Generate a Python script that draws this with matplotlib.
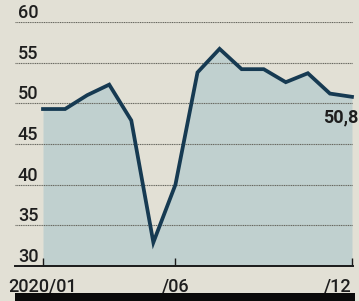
import matplotlib
matplotlib.use("Agg")
import matplotlib.pyplot as plt
from matplotlib.patches import Rectangle

values = [49.3, 49.3, 51.0, 52.3, 47.9, 32.9, 40.0, 53.8, 56.7, 54.2, 54.2, 52.6, 53.7, 51.2, 50.8]
tick_idx = [0, 6, 14]
tick_labels = ["2020/01", "/06", "/12"]
y_ticks = [30, 35, 40, 45, 50, 55, 60]
last_label = "50,8"

W, H = 359, 301
bg = "#e2e0d5"
fig = plt.figure(figsize=(W / 100, H / 100), dpi=100, facecolor=bg)
ax = fig.add_axes([15 / W, 35 / H, (353 - 15) / W, (266 - 22) / H])
ax.set_facecolor(bg)

x = list(range(len(values)))
ax.set_xlim(-1.269, 14.046)
ax.set_ylim(30, 60)

ax.fill_between(x, values, 30, color="#c0d0cf", zorder=1, linewidth=0)
ax.plot(x, values, color="#163a52", linewidth=2.7, solid_joinstyle="miter", zorder=3, clip_on=False)

for yv in y_ticks[1:]:
    ax.axhline(yv, color="#66665e", linewidth=0.8, linestyle=(0, (1, 0.6)), zorder=2)

for s in ["top", "right", "left"]:
    ax.spines[s].set_visible(False)
ax.spines["bottom"].set_color("#1a1a1a")
ax.spines["bottom"].set_linewidth(1.4)
ax.spines["bottom"].set_zorder(4)

font = "Roboto"
ax.set_yticks(y_ticks)
ax.set_yticklabels([str(v) for v in y_ticks], fontsize=13, family=font,
                   fontweight="medium", color="#1e1e1e")
ax.tick_params(axis="y", length=0, pad=-2)
for lbl in ax.get_yticklabels():
    lbl.set_ha("left")
    lbl.set_va("bottom")

ax.set_xticks(tick_idx)
ax.set_xticklabels(tick_labels, fontsize=13, family=font, fontweight="medium", color="#1e1e1e")
ax.tick_params(axis="x", direction="in", length=6, width=1, color="#1a1a1a", pad=8)
xl = ax.get_xticklabels()
xl[-1].set_ha("right")

ax.text(14.27, 47.7, last_label, ha="right", va="baseline", fontsize=13,
        fontweight="bold", family=font, color="#1e1e1e", zorder=5, clip_on=False)

fig.patches.append(Rectangle((15 / W, 0), (355 - 15) / W, 8 / H, transform=fig.transFigure,
                             facecolor="#0a0a0a", edgecolor="none"))

fig.savefig("out.png", dpi=100, facecolor=bg)
